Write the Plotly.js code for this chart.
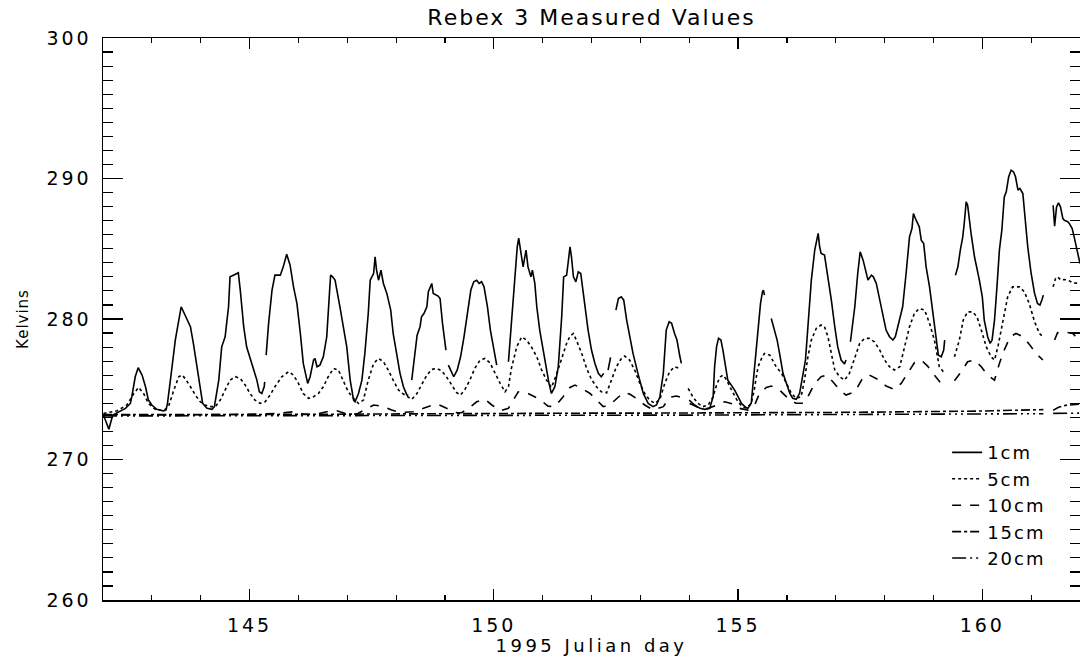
<!DOCTYPE html>
<html>
<head>
<meta charset="utf-8">
<script src="https://cdn.plot.ly/plotly-3.0.1.min.js"></script>
<style>
html,body{margin:0;padding:0;background:#fff;}
#chart{width:1080px;height:664px;}
.gtitle{letter-spacing:2px;}
.xtick text,.ytick text{letter-spacing:3px;}
.g-xtitle text{letter-spacing:3.5px;}
.g-ytitle text{letter-spacing:1px;}
.legendtext{letter-spacing:2px;}
</style>
</head>
<body>
<div id="chart"></div>
<script>
// ---- data (1995 Julian day, Kelvins); null marks a data gap ----
const seriesNames = ['1cm', '5cm', '10cm', '15cm', '20cm'];

const day1cm = [142.01,142.05,142.12,142.20,142.32,142.46,142.56,142.59,142.66,142.72,142.80,142.87,142.93,143.00,143.10,143.24,143.29,
143.32,143.38,143.48,143.60,143.65,143.72,143.79,143.85,143.92,143.99,144.04,144.13,144.23,144.28,
144.37,144.43,144.50,144.57,144.60,144.67,144.73,144.77,144.81,144.88,144.94,145.05,145.15,145.20,145.25,145.30,145.31,null,
145.34,145.39,145.46,145.52,145.63,145.69,145.76,145.83,145.90,145.97,146.04,146.10,146.19,146.24,146.31,146.34,146.38,146.44,146.51,
146.58,146.64,146.66,146.70,146.75,146.85,146.92,146.99,147.06,147.13,147.16,147.23,147.30,147.36,147.43,147.47,147.54,147.57,147.60,
147.64,147.69,147.74,147.81,147.89,147.94,148.01,148.08,148.15,148.22,148.25,null,
148.32,148.39,148.43,148.49,148.52,148.57,148.63,148.66,148.71,148.73,148.76,148.82,148.86,148.90,148.95,149.02,null,
149.07,149.14,149.18,149.25,149.32,149.39,149.48,149.53,149.59,149.65,149.70,149.75,149.80,149.87,149.93,150.00,150.06,null,
150.30,150.36,150.43,150.48,150.51,150.55,150.60,150.66,150.70,150.76,150.79,150.84,150.88,150.94,151.01,151.08,151.13,151.18,
151.25,151.32,151.39,151.43,151.49,151.52,151.56,151.59,151.63,151.68,151.73,151.78,151.82,151.86,151.93,152.00,152.07,152.14,152.20,152.25,null,
152.34,152.39,null,
152.50,152.55,152.61,152.66,152.72,152.78,152.85,152.95,153.06,153.16,153.26,153.33,153.40,153.47,153.53,153.59,153.64,153.70,153.75,153.81,153.84,null,
154.00,154.11,154.22,154.32,154.42,154.49,154.52,154.56,154.60,154.65,154.69,154.75,154.79,154.86,154.93,155.00,155.07,155.14,155.20,
155.27,155.34,155.41,155.46,155.50,155.52,155.54,null,
155.68,155.75,155.80,155.85,155.89,155.92,155.99,156.06,156.12,156.19,156.26,156.31,156.35,156.38,156.43,156.50,156.57,156.61,156.64,
156.67,156.70,156.77,156.81,156.84,156.91,156.98,157.04,157.11,157.18,157.21,null,
157.30,157.39,157.45,157.50,157.56,157.61,157.66,157.73,157.77,157.83,157.90,157.98,158.03,158.10,158.17,158.22,158.27,158.37,158.44,
158.51,158.56,158.59,158.63,158.68,158.71,158.75,158.80,158.85,158.92,158.99,159.06,159.10,159.16,159.21,159.23,null,
159.45,159.50,159.55,159.60,159.63,159.67,159.70,159.74,159.77,159.84,159.89,159.94,160.00,160.04,160.11,160.16,160.20,160.25,160.30,
160.35,160.40,160.45,160.49,160.54,160.59,160.64,160.68,160.73,160.77,160.83,160.88,160.93,161.00,161.07,161.13,161.18,161.22,161.25,null,
161.45,161.48,161.52,161.56,161.60,161.65,161.68,161.75,161.78,161.84,161.88,161.93,161.99,162.00];
const k1cm = [273.16,272.81,272.15,273.16,273.40,273.64,273.99,274.47,275.89,276.53,276.01,275.18,274.23,273.88,273.57,273.45,273.52,
273.99,275.65,278.50,280.87,280.51,280.04,279.45,278.26,276.60,275.18,273.99,273.64,273.57,273.76,
275.65,278.02,278.73,280.87,283.00,283.12,283.24,283.29,282.06,279.45,278.02,276.84,275.65,274.82,274.70,275.18,275.53,null,
277.43,279.69,282.06,283.12,283.12,283.71,284.61,283.83,282.29,281.11,278.97,276.84,275.42,275.89,277.08,277.19,276.60,276.72,277.31,
278.73,282.06,283.12,283.00,282.77,280.87,279.45,278.02,275.65,274.23,274.11,274.70,275.65,277.55,280.39,282.76,283.24,284.43,283.47,
282.76,283.47,282.53,281.82,280.63,278.97,277.55,276.13,275.18,274.60,274.55,null,
275.65,277.79,278.85,279.45,280.16,280.39,280.87,281.94,282.29,282.53,281.82,281.70,281.63,281.46,279.69,277.79,null,
276.72,276.13,275.89,276.36,277.31,278.73,280.87,282.06,282.65,282.76,282.53,282.65,282.29,280.87,279.21,277.79,276.72,null,
276.96,279.69,283.24,285.14,285.75,284.66,283.71,284.90,283.71,283.00,283.48,282.53,280.87,279.21,277.79,276.36,275.42,274.70,
275.18,276.60,280.16,283.00,283.12,283.95,285.14,284.43,283.00,282.65,283.36,283.24,282.06,280.87,279.21,277.79,276.84,276.13,275.89,276.13,null,
276.36,277.27,null,
280.63,281.46,281.58,281.34,279.92,278.73,277.55,276.13,274.70,273.99,273.76,273.88,274.47,276.13,279.21,279.80,279.69,278.97,278.50,277.31,276.84,null,
274.23,273.88,273.64,273.57,273.64,274.47,276.60,278.02,278.62,278.50,277.79,276.60,275.65,275.30,274.94,274.47,273.99,273.76,273.64,
274.00,276.60,279.45,281.11,281.94,282.06,281.70,null,
280.04,279.21,278.50,277.55,276.60,276.13,275.42,274.71,274.35,274.28,274.71,275.65,276.37,277.08,279.45,282.77,284.90,285.61,286.09,
285.14,284.66,284.55,283.71,282.77,281.35,279.45,278.03,277.08,276.79,277.08,null,
278.38,280.87,283.24,284.78,284.19,283.48,282.77,283.12,283.00,282.53,281.35,280.16,279.21,278.74,278.50,278.74,279.45,280.87,283.24,
285.85,286.44,287.51,287.15,286.80,286.56,285.61,285.37,283.71,282.29,280.40,278.50,277.43,277.31,277.79,278.50,null,
283.12,283.71,284.90,285.85,286.80,288.34,288.10,286.80,286.09,284.43,283.71,282.77,281.58,279.92,278.74,278.26,278.50,279.92,282.29,
284.90,286.32,288.69,289.05,290.12,290.59,290.47,290.12,289.17,289.29,288.93,287.03,285.14,283.24,281.82,281.11,280.99,281.35,281.70,null,
288.10,286.61,287.98,288.27,287.98,287.15,287.03,286.92,286.80,286.44,285.85,285.14,284.19,283.95];

const day5cm = [142.01,142.29,142.49,142.63,142.73,142.83,142.93,143.07,143.24,143.34,143.45,143.55,143.62,143.68,143.79,143.89,143.99,
144.09,144.19,144.30,144.40,144.50,144.60,144.71,144.81,144.91,145.01,145.11,145.22,145.32,145.42,145.52,145.66,145.80,145.90,146.00,
146.10,146.21,146.31,146.41,146.51,146.61,146.72,146.82,146.92,147.02,147.13,147.23,147.33,147.43,147.54,147.64,147.74,147.84,147.94,
148.05,148.11,148.22,148.32,148.42,148.52,148.63,148.73,148.83,148.93,149.03,149.14,149.24,149.32,149.41,149.51,149.61,149.72,149.82,
149.92,150.02,150.13,150.23,150.30,150.36,150.47,150.57,150.67,150.77,150.88,150.98,151.08,151.18,151.28,151.39,151.49,151.56,151.63,
151.69,151.80,151.90,152.00,152.10,152.20,152.31,152.41,152.51,152.61,152.68,152.78,152.89,152.99,153.09,153.19,153.30,153.40,153.50,
153.60,153.70,153.81,null,
153.98,154.08,154.18,154.28,154.39,154.49,154.57,154.64,154.69,154.76,154.86,154.97,155.07,155.17,155.27,155.33,155.37,155.41,155.48,
155.54,155.65,155.71,155.78,155.89,155.99,156.09,156.19,156.29,156.36,156.43,156.50,156.60,156.70,156.77,156.84,156.91,156.98,157.08,
157.18,157.28,157.39,157.49,157.59,157.69,157.79,157.90,158.00,158.10,158.20,158.31,158.41,158.51,158.61,158.71,158.82,158.92,159.02,
159.12,159.23,null,
159.43,159.53,159.61,159.70,159.80,159.89,159.98,160.08,160.18,160.25,160.32,160.42,160.52,160.62,160.76,160.86,160.96,161.07,161.17,161.24,null,
161.45,161.50,161.54,161.61,161.68,161.75,161.85,161.99];
const k5cm = [273.28,273.47,273.88,274.70,275.13,274.70,273.99,273.57,273.47,273.76,274.94,275.89,276.01,275.77,275.18,274.59,274.11,
273.88,273.76,273.76,274.23,274.94,275.65,275.89,275.77,275.30,274.70,274.23,273.99,274.11,274.59,275.18,275.89,276.25,276.01,275.42,
274.70,274.35,274.47,274.70,275.18,275.89,276.48,276.36,275.65,274.82,274.35,273.99,274.23,275.65,276.84,277.19,276.96,276.36,275.65,
274.94,274.75,274.47,274.28,274.66,275.30,276.01,276.41,276.48,276.32,275.89,275.30,274.75,274.59,274.99,275.65,276.48,277.08,277.19,
276.89,276.17,275.42,274.82,275.18,276.48,278.02,278.73,278.50,278.02,277.31,276.36,275.65,275.13,276.01,277.19,278.26,278.78,278.97,
278.50,277.55,276.48,275.70,275.18,274.82,274.75,275.65,276.60,277.19,277.36,277.08,276.32,275.42,274.70,274.23,273.99,274.28,275.42,
276.25,276.60,276.48,null,
275.06,274.42,273.99,273.76,273.88,274.47,275.42,275.89,276.01,275.70,274.99,274.28,273.80,273.64,273.99,274.90,275.80,276.60,277.19,
277.55,277.43,277.08,276.60,276.13,275.42,274.71,274.35,274.47,275.65,277.31,278.50,279.33,279.57,279.45,278.74,277.55,276.37,275.89,
275.65,276.13,277.31,278.26,278.62,278.62,278.38,277.79,277.08,276.60,276.37,276.60,278.03,279.45,280.40,280.75,280.63,279.69,278.50,
276.60,276.13,null,
277.31,278.50,279.92,280.51,280.51,280.16,279.21,278.03,277.31,277.08,278.03,279.92,281.58,282.29,282.29,281.94,281.11,279.80,278.97,278.74,null,
282.29,282.89,283.00,282.77,282.81,282.77,282.58,282.53];

const day10cm = [142.01,143.17,144.19,145.22,145.56,145.90,146.10,146.31,146.58,146.79,146.99,147.19,147.40,147.54,147.71,147.91,148.08,
148.35,148.56,148.76,148.86,148.97,149.10,149.24,149.34,149.48,149.65,149.82,149.96,150.13,150.30,150.40,150.50,150.70,150.94,151.11,
151.25,151.42,151.56,151.66,151.80,151.97,152.10,152.24,152.37,152.55,152.65,152.78,152.95,153.09,153.26,153.47,153.60,153.74,153.84,null,
154.01,154.22,154.39,154.56,154.73,154.90,155.03,155.20,155.34,155.44,155.58,155.68,155.85,156.06,156.19,156.33,156.43,156.57,156.70,
156.81,156.94,157.08,157.21,157.39,157.56,157.69,157.86,158.03,158.20,158.34,158.51,158.61,158.75,158.88,159.02,159.12,159.21,null,
159.43,159.57,159.70,159.84,159.98,160.11,160.25,160.35,160.45,160.57,160.69,160.83,160.96,161.10,161.24,null,
161.48,161.54,161.68,161.85,161.99];
const k10cm = [273.16,273.16,273.19,273.23,273.28,273.40,273.23,273.19,273.40,273.47,273.23,273.23,273.64,273.88,273.80,273.52,273.35,
273.40,273.64,273.88,273.92,273.76,273.52,273.33,273.33,273.64,274.11,274.28,273.88,273.47,273.64,274.23,274.82,274.70,274.28,273.80,
273.76,274.47,275.13,275.30,275.06,274.70,274.23,273.76,273.88,274.47,274.75,274.66,274.28,273.88,273.52,273.76,274.42,274.52,274.42,null,
273.99,273.64,273.64,273.88,274.11,273.95,273.64,273.52,273.88,274.71,275.13,275.23,274.94,274.23,274.00,274.00,274.47,275.42,275.89,
276.01,275.54,274.94,274.59,274.82,275.84,276.01,275.70,275.23,274.99,275.42,276.37,276.89,277.08,276.65,276.01,275.54,275.18,null,
275.61,276.25,276.96,277.08,276.60,276.01,275.65,276.84,277.79,278.74,278.97,278.74,278.21,277.55,277.08,null,
278.50,279.02,279.09,278.97,278.50];

const day15cm = [142.00,143.00,144.00,145.00,146.00,147.00,148.00,149.00,150.00,151.00,152.00,153.00,154.00,155.00,156.00,157.00,158.00,
159.00,160.00,160.60,161.25,null,161.45,161.55,161.70,162.00];
const k15cm = [273.20,273.18,273.20,273.20,273.22,273.22,273.25,273.25,273.28,273.28,273.30,273.30,273.30,273.32,273.35,273.35,273.38,
273.40,273.45,273.50,273.55,null,273.50,273.70,273.85,273.95];

const day20cm = [142.00,144.00,146.00,148.00,150.00,152.00,154.00,156.00,158.00,160.00,161.25,null,161.45,162.00];
const k20cm = [273.10,273.10,273.12,273.12,273.14,273.15,273.16,273.18,273.20,273.24,273.26,null,273.28,273.30];

const xTickVals = [145, 150, 155, 160];
const xTickText = ['145', '150', '155', '160'];
const yTickVals = [260, 270, 280, 290, 300];
const yTickText = ['260', '270', '280', '290', '300'];

// ---- styling ----
const FONT = '"DejaVu Sans", Verdana, sans-serif';
const dashes = ['solid', 'dot', 'dash', 'dashdot', '14px,4px,2px,4px,2px,4px,2px,4px'];
const xs = [day1cm, day5cm, day10cm, day15cm, day20cm];
const ys = [k1cm, k5cm, k10cm, k15cm, k20cm];

const traces = seriesNames.map((name, i) => ({
  type: 'scatter', mode: 'lines', name: name,
  x: xs[i], y: ys[i], connectgaps: false,
  line: {color: 'black', width: 1.6, dash: dashes[i]},
  hoverinfo: 'skip'
}));

const axisCommon = {
  showline: true, linecolor: 'black', linewidth: 1.5, mirror: 'ticks',
  ticks: 'inside', tickcolor: 'black', tickwidth: 1.3,
  showgrid: false, zeroline: false, tickmode: 'array',
  tickfont: {family: FONT, size: 19, color: 'black'}
};

const layout = {
  width: 1080, height: 664,
  margin: {l: 103, r: 0, t: 38, b: 64},
  paper_bgcolor: 'white', plot_bgcolor: 'white',
  showlegend: true,
  title: {text: 'Rebex 3 Measured Values', font: {family: FONT, size: 22, color: 'black'},
          x: 0.5, xref: 'paper', xanchor: 'center', y: 1 - 17 / 664, yref: 'container', yanchor: 'middle'},
  xaxis: Object.assign({}, axisCommon, {
    range: [142, 162], tickvals: xTickVals, ticktext: xTickText, ticklen: 11,
    ticklabelstandoff: 8,
    minor: {tickmode: 'linear', tick0: 0, dtick: 1, ticks: 'inside', ticklen: 5, tickwidth: 1.2, tickcolor: 'black', showgrid: false},
    title: {text: '1995 Julian day', font: {family: FONT, size: 18, color: 'black'}, standoff: 4}
  }),
  yaxis: Object.assign({}, axisCommon, {
    range: [260, 300], tickvals: yTickVals, ticktext: yTickText, ticklen: 20,
    ticklabelstandoff: 6,
    minor: {tickmode: 'linear', tick0: 0, dtick: 1, ticks: 'inside', ticklen: 10, tickwidth: 1.2, tickcolor: 'black', showgrid: false},
    title: {text: 'Kelvins', font: {family: FONT, size: 15, color: 'black'}, standoff: 14}
  }),
  legend: {
    x: 0.864, y: 0.295, xanchor: 'left', yanchor: 'top',
    bgcolor: 'rgba(0,0,0,0)', borderwidth: 0,
    font: {family: FONT, size: 18, color: 'black'},
    tracegroupgap: 0, traceorder: 'normal'
  },
  hovermode: false
};

Plotly.newPlot('chart', traces, layout, {displayModeBar: false, staticPlot: true});
</script>
</body>
</html>
